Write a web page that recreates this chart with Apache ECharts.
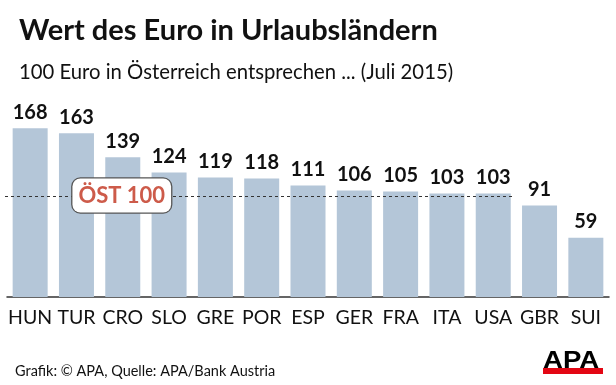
<!DOCTYPE html>
<html><head><meta charset="utf-8">
<script src="https://cdn.jsdelivr.net/npm/echarts@6/dist/echarts.min.js"></script>
<style>html,body{margin:0;padding:0;background:#fff}#c{width:616px;height:385px}</style>
</head><body><div id="c"></div>
<script>
const categories = ['HUN','TUR','CRO','SLO','GRE','POR','ESP','GER','FRA','ITA','USA','GBR','SUI'];
const values = [168,163,139,124,119,118,111,106,105,103,103,91,59];
const refValue = 100;
const refLabel = 'ÖST 100';
const refLabelAt = 'CRO';
const refLineEnd = 'USA';
const titleText = 'Wert des Euro in Urlaubsländern';
const subtitleText = '100 Euro in Österreich entsprechen ... (Juli 2015)';
const footerText = 'Grafik: © APA, Quelle: APA/Bank Austria';

const chart = echarts.init(document.getElementById('c'), null, {renderer:'canvas'});
const BW = 35;
chart.setOption({
  animation:false,
  title:[
    {text:titleText,left:14,top:11,textStyle:{fontFamily:'Lato',fontWeight:'bold',fontSize:29,color:'#111'}},
    {text:subtitleText,left:14,top:57,textStyle:{fontFamily:'Lato',fontWeight:'normal',fontSize:20.3,color:'#111'}},
    {text:footerText,left:10,top:359,textStyle:{fontFamily:'Lato',fontWeight:'normal',fontSize:14.5,color:'#111'}}
  ],
  grid:{left:7,right:7,top:96,bottom:88},
  xAxis:{type:'category',data:categories,
    axisLine:{lineStyle:{color:'#333',width:1.5}},axisTick:{show:false},
    axisLabel:{interval:0,fontFamily:'Lato',fontSize:19.5,color:'#111',margin:11}},
  yAxis:{type:'value',min:0,max:200,show:false,splitLine:{show:false}},
  series:[{type:'bar',data:values,barWidth:BW,itemStyle:{color:'#b4c6d8'},
    label:{show:true,position:'top',distance:6,fontFamily:'Lato',fontWeight:'bold',fontSize:20,color:'#111'}}]
});
const y = chart.convertToPixel({yAxisIndex:0}, refValue);
const grid = chart.getModel().getComponent('grid').coordinateSystem.getRect();
const xEnd = chart.convertToPixel({xAxisIndex:0}, refLineEnd) + BW/2 + 2;
const xLab = chart.convertToPixel({xAxisIndex:0}, refLabelAt);
chart.setOption({graphic:[
  {type:'line',z:10,shape:{x1:grid.x-2,y1:y,x2:xEnd,y2:y},style:{stroke:'#333',lineWidth:1.2,lineDash:[3,3]}},
  {type:'text',z:11,x:xLab-1,y:y-1,style:{text:refLabel,fontFamily:'Lato',fontWeight:'bold',fontSize:22,fill:'#cd5b4a',
    align:'center',verticalAlign:'middle',backgroundColor:'#fff',borderColor:'#555',borderWidth:1.3,borderRadius:8,padding:[7,6,5,6]}},
  {type:'text',z:11,x:543,y:349,scaleX:1.15,style:{text:'APA',fontFamily:'Liberation Sans',fontWeight:'bold',fontSize:24,fill:'#000'}},
  {type:'rect',z:11,shape:{x:543,y:368,width:60,height:6},style:{fill:'#e30613'}}
]});
</script></body></html>
